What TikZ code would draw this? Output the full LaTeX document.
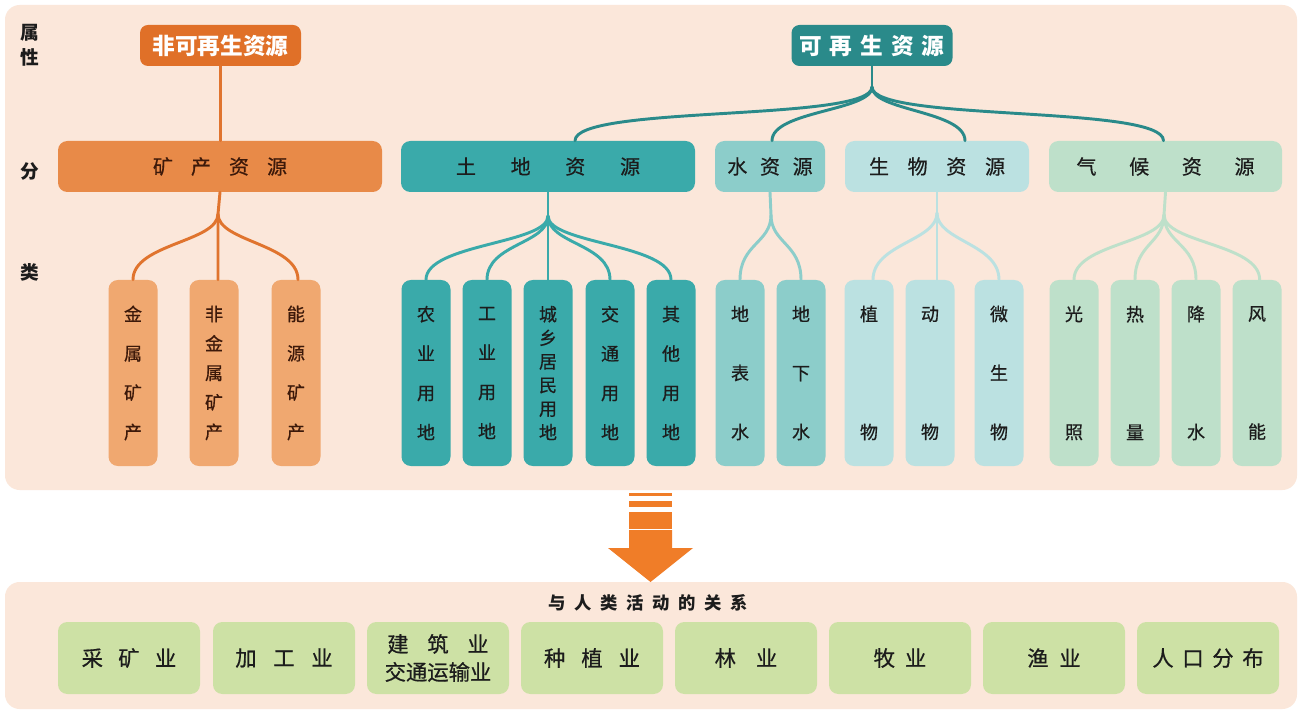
\documentclass[tikz,border=0pt]{standalone}
\usepackage{fontspec}
\setmainfont{Noto Sans CJK SC}
\newfontfamily\medfont{Noto Sans CJK SC}[FakeBold=0.6]
\usetikzlibrary{calc}
\definecolor{panel}{RGB}{251,231,218}
\definecolor{orgD}{RGB}{224,112,40}
\definecolor{orgM}{RGB}{232,138,72}
\definecolor{orgL}{RGB}{240,168,112}
\definecolor{orgLine}{RGB}{224,116,46}
\definecolor{tealD}{RGB}{42,138,138}
\definecolor{tealM}{RGB}{58,170,170}
\definecolor{waterC}{RGB}{140,205,202}
\definecolor{bioC}{RGB}{187,225,225}
\definecolor{climC}{RGB}{190,224,202}
\definecolor{greenB}{RGB}{205,225,165}
\definecolor{arrowC}{RGB}{240,125,40}
\definecolor{brownT}{RGB}{60,25,10}
\definecolor{darkT}{RGB}{28,28,28}
\begin{document}
\begin{tikzpicture}[x=0.75pt,y=-0.75pt,
  wh/.style 2 args={minimum width=#1*0.75pt, minimum height=#2*0.75pt},
  box/.style={inner sep=0pt, rounded corners=7pt, text=darkT},
  topbox/.style={box, wh={161}{41}, rounded corners=6pt, text=white, font=\fontsize{17pt}{20pt}\selectfont\bfseries},
  catbox/.style={box, wh={#1}{51}, font=\medfont\fontsize{15pt}{18pt}\selectfont},
  leaf/.style={box, wh={49}{186}, align=center, font=\medfont\fontsize{13.5pt}{#1}\selectfont},
  botbox/.style={box, wh={142}{72}, fill=greenB, align=center, font=\medfont\fontsize{16pt}{21pt}\selectfont},
  side/.style={text=darkT, font=\fontsize{14pt}{16pt}\selectfont\bfseries, inner sep=0pt},
  conn/.style={line width=2.2pt, line cap=round},
]
\useasboundingbox (0,0) rectangle (1302,712);
\fill[white] (0,0) rectangle (1302,712);
% panels
\fill[panel, rounded corners=11pt] (5,5) rectangle (1297,490);
\fill[panel, rounded corners=11pt] (5,582) rectangle (1297,709);

% side labels
\node[side] (s1) at (30,33) {属};
\node[side] (s2) at (30,57) {性};
\node[side] (s3) at (30,172) {分};
\node[side] (s4) at (30,272) {类};

% top boxes
\node[topbox, fill=orgD] (nonrenew) at (220.5,45.5) {非可再生资源};
\node[topbox, fill=tealD] (renew) at (872,45.5) {可\hspace{6pt}再\hspace{6pt}生\hspace{6pt}资\hspace{6pt}源};

% category boxes
\node[catbox=324, fill=orgM, text=brownT] (mineral) at (220,166.5) {矿\hspace{13.5pt}产\hspace{13.5pt}资\hspace{13.5pt}源};
\node[catbox=294, fill=tealM] (land) at (548,166.5) {土\hspace{26pt}地\hspace{26pt}资\hspace{26pt}源};
\node[catbox=110, fill=waterC] (water) at (770,166.5) {水\hspace{9.5pt}资\hspace{9.5pt}源};
\node[catbox=184, fill=bioC] (bio) at (937,166.5) {生\hspace{14pt}物\hspace{14pt}资\hspace{14pt}源};
\node[catbox=233, fill=climC] (climate) at (1165.5,166.5) {气\hspace{24.5pt}候\hspace{24.5pt}资\hspace{24.5pt}源};

% leaves
\node[leaf=29.5pt, fill=orgL, text=brownT] (m1) at (133,373) {金\\属\\矿\\产};
\node[leaf=22.1pt, fill=orgL, text=brownT] (m2) at (214,373) {非\\金\\属\\矿\\产};
\node[leaf=29.5pt, fill=orgL, text=brownT] (m3) at (296,373) {能\\源\\矿\\产};
\node[leaf=29.5pt, fill=tealM] (l1) at (426,373) {农\\业\\用\\地};
\node[leaf=29.5pt, fill=tealM] (l2) at (487,373) {工\\业\\用\\地};
\node[leaf=17.7pt, fill=tealM] (l3) at (548,373) {城\\乡\\居\\民\\用\\地};
\node[leaf=29.5pt, fill=tealM] (l4) at (610,373) {交\\通\\用\\地};
\node[leaf=29.5pt, fill=tealM] (l5) at (671,373) {其\\他\\用\\地};
\node[leaf=44.25pt, fill=waterC] (w1) at (740,373) {地\\表\\水};
\node[leaf=44.25pt, fill=waterC] (w2) at (801,373) {地\\下\\水};
\node[leaf=88.5pt, fill=bioC] (b1) at (869,373) {植\\物};
\node[leaf=88.5pt, fill=bioC] (b2) at (930,373) {动\\物};
\node[leaf=44.25pt, fill=bioC] (b3) at (999,373) {微\\生\\物};
\node[leaf=88.5pt, fill=climC] (c1) at (1074,373) {光\\照};
\node[leaf=88.5pt, fill=climC] (c2) at (1135,373) {热\\量};
\node[leaf=88.5pt, fill=climC] (c3) at (1196,373) {降\\水};
\node[leaf=88.5pt, fill=climC] (c4) at (1257,373) {风\\能};

% junctions
\coordinate (jR) at (872,87);
\coordinate (jM) at (218,214);
\coordinate (jL) at (548,216);
\coordinate (jW) at (771,215);
\coordinate (jB) at (937,213);
\coordinate (jC) at (1164,215);

% connectors: top
\draw[conn, orgLine] (nonrenew.south) -- (nonrenew.south |- mineral.north);
\draw[conn, tealD] (renew.south) -- (jR);
\draw[conn, tealD] (jR) .. controls +(0,35) and +(0,-36) .. ([xshift=20.25pt]land.north);
\draw[conn, tealD] (jR) .. controls +(0,24) and +(0,-30) .. ([xshift=1.5pt]water.north);
\draw[conn, tealD] (jR) .. controls +(0,24) and +(0,-30) .. ([xshift=21pt]bio.north);
\draw[conn, tealD] (jR) .. controls +(0,35) and +(0,-36) .. ([xshift=-1.5pt]climate.north);

% mineral tree
\draw[conn, orgLine] (mineral.south) -- (jM) -- (jM |- m2.north);
\draw[conn, orgLine] (jM) .. controls +(0,28) and +(0,-36) .. (m1.north);
\draw[conn, orgLine] (jM) .. controls +(0,28) and +(0,-36) .. ([xshift=1.5pt]m3.north);
% land tree
\draw[conn, tealM] (land.south) -- (jL) -- (l3.north);
\draw[conn, tealM] (jL) .. controls +(0,28) and +(0,-36) .. (l1.north);
\draw[conn, tealM] (jL) .. controls +(0,28) and +(0,-36) .. (l2.north);
\draw[conn, tealM] (jL) .. controls +(0,28) and +(0,-36) .. (l4.north);
\draw[conn, tealM] (jL) .. controls +(0,28) and +(0,-36) .. (l5.north);
% water tree
\draw[conn, waterC] (water.south) -- (jW);
\draw[conn, waterC] (jW) .. controls +(0,28) and +(0,-36) .. (w1.north);
\draw[conn, waterC] (jW) .. controls +(0,28) and +(0,-36) .. (w2.north);
% bio tree
\draw[conn, bioC] (bio.south) -- (jB) -- (jB |- b2.north);
\draw[conn, bioC] (jB) .. controls +(0,28) and +(0,-36) .. ([xshift=3pt]b1.north);
\draw[conn, bioC] (jB) .. controls +(0,28) and +(0,-36) .. (b3.north);
% climate tree
\draw[conn, climC] (climate.south) -- (jC);
\draw[conn, climC] (jC) .. controls +(0,28) and +(0,-36) .. (c1.north);
\draw[conn, climC] (jC) .. controls +(0,28) and +(0,-36) .. (c2.north);
\draw[conn, climC] (jC) .. controls +(0,28) and +(0,-36) .. (c3.north);
\draw[conn, climC] (jC) .. controls +(0,28) and +(0,-36) .. ([xshift=2pt]c4.north);

% arrow
\fill[arrowC] (629,493) rectangle (672,495.5);
\fill[arrowC] (629,501) rectangle (672,507);
\fill[arrowC] (629,512) rectangle (672,528.5);
\fill[arrowC] (629,530) -- (672,530) -- (672,548) -- (693,548) -- (650.5,582) -- (608,548) -- (629,548) -- cycle;

% bottom
\node[text=darkT, inner sep=0pt, font=\fontsize{13pt}{16pt}\selectfont\bfseries] (title) at (648,603)
  {与\hspace{6.5pt}人\hspace{6.5pt}类\hspace{6.5pt}活\hspace{6.5pt}动\hspace{6.5pt}的\hspace{6.5pt}关\hspace{6.5pt}系};
\node[botbox] (u1) at (129,658) {采\hspace{11.5pt}矿\hspace{11.5pt}业};
\node[botbox] (u2) at (284,658) {加\hspace{12.5pt}工\hspace{12.5pt}业};
\node[botbox] (u3) at (438,658) {建\hspace{14pt}筑\hspace{14pt}业\\交通运输业};
\node[botbox] (u4) at (592,658) {种\hspace{12pt}植\hspace{12pt}业};
\node[botbox] (u5) at (746,658) {林\hspace{15pt}业};
\node[botbox] (u6) at (900,658) {牧\hspace{7.5pt}业};
\node[botbox] (u7) at (1054,658) {渔\hspace{8pt}业};
\node[botbox] (u8) at (1208,658) {人\hspace{6.5pt}口\hspace{6.5pt}分\hspace{6.5pt}布};
\end{tikzpicture}
\end{document}
